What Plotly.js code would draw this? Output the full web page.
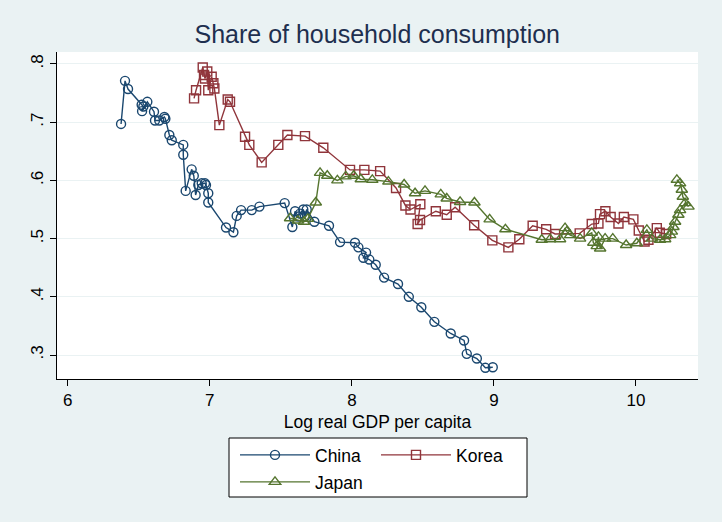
<!DOCTYPE html>
<html>
<head>
<meta charset="utf-8">
<script src="https://cdn.plot.ly/plotly-3.0.1.min.js"></script>
<style>html,body{margin:0;padding:0;background:#eaf2f3;}#chart{width:722px;height:522px;}</style>
</head>
<body>
<div id="chart"></div>
<script>
const chinaX = [6.375,6.403,6.424,6.520,6.532,6.523,6.560,6.607,6.614,6.644,6.680,6.687,6.715,6.732,6.813,6.813,6.830,6.872,6.887,6.900,6.919,6.943,6.966,6.973,6.989,6.989,7.114,7.166,7.189,7.220,7.295,7.349,7.527,7.581,7.600,7.623,7.635,7.658,7.670,7.682,7.736,7.839,7.917,8.022,8.046,8.100,8.081,8.123,8.168,8.227,8.325,8.401,8.489,8.581,8.696,8.790,8.809,8.880,8.940,8.992];
const chinaY = [0.697,0.771,0.757,0.730,0.727,0.719,0.735,0.718,0.703,0.703,0.709,0.706,0.678,0.669,0.661,0.644,0.582,0.619,0.608,0.575,0.592,0.595,0.595,0.592,0.578,0.562,0.519,0.511,0.539,0.549,0.549,0.555,0.561,0.520,0.547,0.538,0.543,0.550,0.538,0.550,0.529,0.522,0.494,0.493,0.485,0.476,0.467,0.464,0.455,0.433,0.422,0.400,0.382,0.357,0.337,0.325,0.302,0.294,0.278,0.279];

const koreaX = [6.889,6.903,6.950,6.959,6.966,6.982,6.989,7.013,7.025,7.032,7.067,7.126,7.142,7.248,7.278,7.365,7.482,7.546,7.670,7.799,7.987,8.088,8.199,8.311,8.377,8.413,8.482,8.463,8.480,8.591,8.668,8.727,8.861,8.989,9.102,9.179,9.273,9.368,9.431,9.604,9.689,9.736,9.747,9.785,9.822,9.877,9.915,9.982,10.020,10.061,10.088,10.147,10.168,10.213];
const koreaY = [0.741,0.755,0.794,0.781,0.775,0.787,0.755,0.778,0.767,0.758,0.695,0.739,0.735,0.675,0.661,0.631,0.661,0.678,0.676,0.656,0.618,0.618,0.616,0.587,0.557,0.550,0.559,0.525,0.532,0.547,0.541,0.554,0.523,0.497,0.485,0.499,0.522,0.516,0.508,0.509,0.525,0.526,0.542,0.547,0.537,0.526,0.537,0.533,0.514,0.495,0.498,0.518,0.510,0.508];

const japanX = [7.565,7.620,7.663,7.690,7.746,7.776,7.827,7.898,7.957,8.013,8.063,8.144,8.257,8.368,8.445,8.515,8.626,8.668,8.762,8.863,8.970,9.081,9.337,9.396,9.466,9.501,9.513,9.537,9.607,9.689,9.700,9.724,9.736,9.748,9.783,9.837,9.931,10.006,10.077,10.112,10.170,10.206,10.241,10.253,10.264,10.276,10.299,10.311,10.346,10.370,10.330,10.323,10.311,10.288];
const japanY = [0.535,0.531,0.529,0.534,0.562,0.613,0.608,0.600,0.607,0.608,0.602,0.601,0.598,0.593,0.578,0.582,0.576,0.569,0.563,0.562,0.533,0.516,0.498,0.499,0.499,0.518,0.512,0.506,0.500,0.510,0.493,0.487,0.503,0.483,0.500,0.500,0.489,0.492,0.515,0.500,0.498,0.499,0.506,0.512,0.520,0.529,0.541,0.549,0.561,0.555,0.572,0.584,0.595,0.601];

const xTicks = [6,7,8,9,10];
const yTicks = [0.3,0.4,0.5,0.6,0.7,0.8];
const yTickText = ['.3','.4','.5','.6','.7','.8'];

const FONT = 'Liberation Sans, Arial, Helvetica, sans-serif';
const navy = '#1a476f', maroon = '#90353b', green = '#55752f';

function tr(name, x, y, color, symbol, size, legend) {
  return {
    type: 'scatter', mode: 'lines+markers', name: name, x: x, y: y,
    line: {color: color, width: 1.4},
    marker: {symbol: symbol, size: size, color: color, line: {color: color, width: 1.4}},
    legend: legend
  };
}

const data = [
  tr('China', chinaX, chinaY, navy, 'circle-open', 9, 'legend'),
  tr('Korea', koreaX, koreaY, maroon, 'square-open', 9, 'legend'),
  tr('Japan', japanX, japanY, green, 'triangle-up-open', 10, 'legend2')
];

const layout = {
  width: 722, height: 522,
  paper_bgcolor: '#eaf2f3', plot_bgcolor: '#ffffff',
  margin: {l: 57, r: 24, t: 52, b: 143},
  font: {family: FONT, color: '#000000'},
  title: {text: 'Share of household consumption', font: {family: FONT, size: 25, color: '#1e2f4f'},
          x: 0.5225, xanchor: 'center', y: 0.935, yanchor: 'middle'},
  xaxis: {
    range: [5.924, 10.437], tickvals: xTicks, ticktext: xTicks.map(String),
    ticks: 'outside', ticklen: 6, tickwidth: 1, tickcolor: '#000',
    showline: true, linecolor: '#000', linewidth: 1,
    showgrid: false, zeroline: false,
    tickfont: {family: FONT, size: 17, color: '#000'},
    title: {text: 'Log real GDP per capita', font: {family: FONT, size: 17.5, color: '#000'}, standoff: 6}
  },
  yaxis: {
    range: [0.2588, 0.8206], tickvals: yTicks, ticktext: yTickText,
    ticks: 'outside', ticklen: 6, tickwidth: 1, tickcolor: '#000',
    showline: true, linecolor: '#000', linewidth: 1,
    showgrid: true, gridcolor: '#eaf2f3', gridwidth: 1, zeroline: false,
    tickangle: -90,
    tickfont: {family: FONT, size: 17, color: '#000'}
  },
  shapes: [{
    type: 'rect', xref: 'paper', yref: 'paper', layer: 'above',
    x0: (229 - 57) / 641, x1: (527 - 57) / 641,
    y0: (379 - 438) / 327, y1: (379 - 497) / 327,
    line: {color: '#000', width: 1}, fillcolor: 'rgba(0,0,0,0)'
  }, {
    type: 'rect', xref: 'paper', yref: 'paper', layer: 'below',
    x0: (229 - 57) / 641, x1: (527 - 57) / 641,
    y0: (379 - 438) / 327, y1: (379 - 497) / 327,
    line: {width: 0}, fillcolor: '#ffffff'
  }],
  legend: {
    orientation: 'h', x: (235 - 57) / 641, xanchor: 'left', y: (379 - 437) / 327, yanchor: 'top',
    bgcolor: 'rgba(0,0,0,0)', borderwidth: 0, itemwidth: 70, entrywidth: 56,
    font: {family: FONT, size: 17.5, color: '#000'}, traceorder: 'normal'
  },
  legend2: {
    orientation: 'h', x: (235 - 57) / 641, xanchor: 'left', y: (379 - 464) / 327, yanchor: 'top',
    bgcolor: 'rgba(0,0,0,0)', borderwidth: 0, itemwidth: 70,
    font: {family: FONT, size: 17.5, color: '#000'}
  },
  showlegend: true
};

Plotly.newPlot('chart', data, layout, {displayModeBar: false, staticPlot: true});
</script>
</body>
</html>
